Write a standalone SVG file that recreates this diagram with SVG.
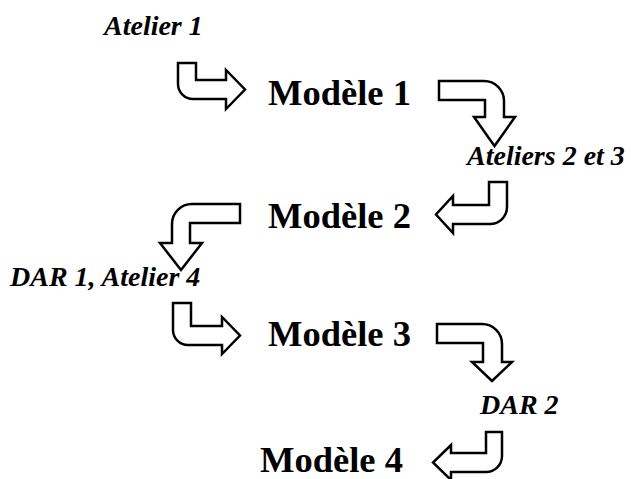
<svg xmlns="http://www.w3.org/2000/svg" width="631" height="479" viewBox="0 0 631 479">
<style>
.arrow{fill:#fff;stroke:#000;stroke-width:2.5;stroke-linejoin:miter}
.model{font-family:"Liberation Serif","Times New Roman",serif;font-weight:bold;font-size:36.5px;fill:#000}
.lab{font-family:"Liberation Serif","Times New Roman",serif;font-weight:bold;font-style:italic;font-size:28px;fill:#000}
</style>
<rect width="631" height="479" fill="#fff"/>
<g id="label-atelier1"><text class="lab" x="104" y="35">Atelier 1</text></g>
<g id="node-modele1"><text class="model" x="268" y="105">Modèle 1</text></g>
<g id="label-ateliers23"><text class="lab" x="467" y="165">Ateliers 2 et 3</text></g>
<g id="node-modele2"><text class="model" x="268" y="228">Modèle 2</text></g>
<g id="label-dar1"><text class="lab" x="10" y="286">DAR 1, Atelier 4</text></g>
<g id="node-modele3"><text class="model" x="268" y="346">Modèle 3</text></g>
<g id="label-dar2"><text class="lab" x="480" y="414">DAR 2</text></g>
<g id="node-modele4"><text class="model" x="260" y="472">Modèle 4</text></g>
<g id="connectors">
<path class="arrow" d="M178,63 H196 V80 H226 V70 L245,89.5 L226,109 V99 H193 A15,15 0 0 1 178,84 Z"/>
<path class="arrow" d="M439,81 H484 A20,20 0 0 1 504,101 V117 H515 L494.5,146 L474,117 H485 V100 H439 Z"/>
<path class="arrow" d="M489,182 H507 V207 A17,17 0 0 1 490,224 H453 V233 L436,214.5 L453,196 V205 H489 Z"/>
<path class="arrow" d="M240,204 V223 H190 V243 H202 L181,270 L160,243 H172 V224 A20,20 0 0 1 192,204 Z"/>
<path class="arrow" d="M173,303 H191 V326 H222 V317 L240,335.5 L222,354 V345 H188 A15,15 0 0 1 173,330 Z"/>
<path class="arrow" d="M437,324 H482 A20,20 0 0 1 502,344 V362 H512 L492,381 L472,362 H483 V343 H437 Z"/>
<path class="arrow" d="M486,432 H502 V456 A16,16 0 0 1 486,472 H451 V480 L433,462.5 L451,445 V453 H486 Z"/>
</g>
</svg>
